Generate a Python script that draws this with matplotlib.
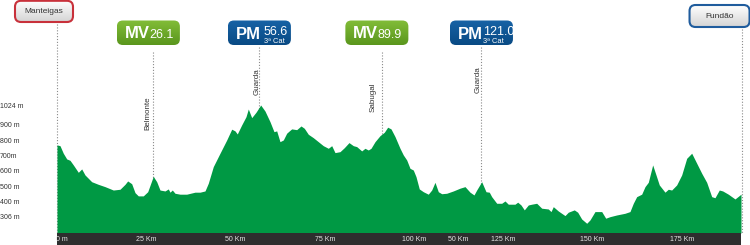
import numpy as np
import matplotlib
matplotlib.use("Agg")
import matplotlib.pyplot as plt
from matplotlib.patches import FancyBboxPatch
from matplotlib.colors import LinearSegmentedColormap
import matplotlib.transforms as mtransforms

plt.rcParams['font.family'] = ['Liberation Sans', 'DejaVu Sans']

# ---------------- data ----------------
km = [0.0, 0.84, 1.76, 2.72, 3.64, 4.57, 5.97, 6.92, 7.84, 9.72, 11.57, 13.45, 15.77, 17.65,
      19.05, 19.80, 20.92, 21.85, 22.77, 24.17, 25.41, 26.97, 27.93, 28.85, 30.25, 31.18,
      31.65, 32.30, 33.05, 34.45, 36.33, 38.66, 40.06, 41.46, 42.38, 43.78, 45.66, 47.54,
      48.94, 49.86, 50.50, 51.74, 52.94, 53.59, 54.54, 55.74, 57.06, 58.26, 59.66, 60.78,
      61.54, 62.46, 63.39, 64.34, 65.07, 65.74, 67.14, 68.35, 69.27, 70.39, 71.79, 73.19,
      74.59, 76.00, 76.95, 77.87, 79.27, 80.48, 81.79, 83.00, 83.95, 85.35, 86.27, 87.20,
      87.96, 89.08, 90.48, 91.68, 92.63, 93.56, 94.68, 96.08, 97.00, 97.96, 98.88, 99.80,
      100.56, 101.48, 102.61, 104.00, 104.96, 105.88, 106.81, 107.76, 109.16, 111.01,
      112.89, 114.29, 115.69, 116.81, 117.56, 118.96, 120.17, 121.09, 121.76, 123.17,
      124.57, 125.49, 126.41, 128.29, 129.05, 129.97, 130.90, 132.02, 132.97, 134.37,
      135.77, 137.62, 138.38, 139.02, 140.42, 142.30, 143.22, 144.90, 145.85, 146.97,
      148.38, 149.30, 150.70, 152.58, 153.70, 154.90, 156.78, 159.10, 160.50, 161.43,
      162.38, 163.78, 164.71, 165.63, 166.86, 167.79, 168.71, 170.31, 171.23, 172.18,
      173.58, 174.99, 176.39, 177.79, 179.19, 180.59, 181.99, 183.39, 184.31, 185.52,
      186.47, 188.04, 189.92, 191.60]
elev = [775, 770, 721, 684, 675, 645, 597, 619, 580, 536, 519, 504, 482, 487,
        519, 541, 523, 465, 444, 444, 471, 571, 536, 482, 476, 489,
        468, 482, 461, 455, 455, 468, 468, 476, 526, 634, 721, 807,
        877, 866, 846, 905, 958, 1008, 952, 987, 1034, 995, 926, 861,
        866, 796, 807, 851, 866, 879, 874, 898, 883, 844, 822, 796,
        770, 753, 770, 725, 731, 757, 790, 770, 764, 736, 753, 742,
        753, 796, 835, 857, 890, 879, 829, 753, 710, 677, 623, 612,
        569, 489, 471, 455, 482, 532, 471, 458, 461, 476,
        494, 504, 468, 450, 482, 536, 471, 468, 439, 396,
        396, 411, 390, 390, 403, 385, 353, 385, 390, 396,
        364, 359, 342, 374, 346, 316, 338, 353, 338, 294,
        266, 288, 342, 342, 299, 309, 320, 331, 342, 396,
        439, 455, 504, 532, 645, 580, 515, 468, 487, 482,
        515, 580, 688, 721, 656, 591, 532, 439, 432, 482,
        476, 455, 424, 455]

ytick_vals = [1024, 900, 800, 700, 600, 500, 400, 306]
ytick_labels = ['1024 m', '900 m', '800 m', '700m', '600 m', '500 m', '400 m', '306 m']
xtick_km = [0, 25, 50, 75, 100, 112.5, 125, 150, 175]
xtick_labels = ['0 m', '25 Km', '50 Km', '75 Km', '100 Km', '50 Km', '125 Km', '150 Km', '175 Km']

places = ['Manteigas', 'Belmonte', 'Guarda', 'Sabugal', 'Guarda', 'Fundão']
place_km = [0.0, 27.0, 56.7, 91.0, 118.7, 191.75]

climb_type = ['MV', 'PM', 'MV', 'PM']
climb_label = ['26.1', '56.6', '89.9', '121.0']
climb_cat = ['', '3ª Cat', '', '3ª Cat']
climb_badge_km = [25.6, 56.7, 89.6, 118.9]

# ---------------- layout ----------------
W, H = 750, 245
L, R = 57, 741
BAR_TOP = 233
KM_MAX = 191.6
Y_BOTTOM, Y_TOP = 203, 1716
PPK = (R - L) / KM_MAX

GREEN = '#009944'
BAR = '#2e2e2e'

fig = plt.figure(figsize=(W / 100, H / 100), dpi=100)
fig.patch.set_facecolor('white')

ax = fig.add_axes([L / W, (H - BAR_TOP) / H, (R - L) / W, BAR_TOP / H])
ax.set_xlim(0, KM_MAX)
ax.set_ylim(Y_BOTTOM, Y_TOP)
ax.axis('off')

# overlay in (km, pixel-from-top) units covering the whole figure
ov = fig.add_axes([0, 0, 1, 1], zorder=3)
ov.set_xlim(-L / PPK, (W - L) / PPK)
ov.set_ylim(H, 0)
ov.axis('off')
ov.patch.set_alpha(0)

# bar axis
bax = fig.add_axes([L / W, 0, (R - L) / W, (H - BAR_TOP) / H], zorder=2)
bax.set_xlim(0, KM_MAX)
bax.set_ylim(0, 1)
bax.set_facecolor(BAR)
for s in bax.spines.values():
    s.set_visible(False)
bax.set_xticks([]); bax.set_yticks([])
for k, lab in zip(xtick_km, xtick_labels):
    if k == 0:
        bax.text(k, 0.5, lab, ha='left', va='center', fontsize=5, color='#e6e6e6',
                 transform=mtransforms.offset_copy(bax.transData, fig=fig, x=-1.2, y=0, units='dots'))
    else:
        bax.text(k, 0.5, lab, ha='center', va='center', fontsize=5, color='#e6e6e6')

# profile
ax.fill_between(km, elev, Y_BOTTOM, color=GREEN, lw=0, zorder=2)

# y labels
ytr = mtransforms.blended_transform_factory(fig.transFigure, ax.transData)
for v, lab in zip(ytick_vals, ytick_labels):
    fig.text(0.0, v, lab, transform=ytr, ha='left', va='center', fontsize=5, color='#333333')

# dotted location lines (behind the profile)
line_tops = [24, 52, 47, 52, 47, 29]
btr = mtransforms.blended_transform_factory(ax.transData, ov.transData)
for k, top in zip(place_km, line_tops):
    ax.plot([k, k], [top, BAR_TOP], transform=btr, color='#8a8a8a', lw=0.8,
            dashes=(1, 1.6), zorder=1, clip_on=False)

# rotated location names
label_pos = {1: (-4.3, 130), 2: (-1.0, 95), 3: (-7.2, 112), 4: (-0.7, 93)}
for i, (dx, yb) in label_pos.items():
    ov.text(place_km[i] + dx / PPK, yb, places[i], rotation=90, rotation_mode='anchor',
            ha='left', va='baseline', fontsize=5.8, color='#333333')


def badge(x0, x1, y0, y1, c_top, c_bot, edge='none', lw=0.0, rpx=5):
    p = FancyBboxPatch((x0, y0), x1 - x0, y1 - y0,
                       boxstyle=f"round,pad=0,rounding_size={rpx / PPK}",
                       mutation_aspect=PPK, fc='none', ec=edge, lw=lw, zorder=6)
    ov.add_patch(p)
    cmap = LinearSegmentedColormap.from_list('g', [c_top, c_bot])
    img = np.linspace(0, 1, 64).reshape(-1, 1)
    im = ov.imshow(img, extent=[x0, x1, y1, y0], cmap=cmap, aspect='auto',
                   interpolation='bilinear', zorder=5)
    im.set_clip_path(p)
    return p


# start / finish badges
end_badges = [(0, -13, 58, 0.8, 22, '#c8313b'), (5, -22, 60, 5, 27, '#1f5c9d')]
for i, dxc, wpx, y0, y1, ec in end_badges:
    k = place_km[i]
    cx = k + dxc / PPK
    x0 = cx - wpx / 2 / PPK
    x1 = cx + wpx / 2 / PPK
    badge(x0, x1, y0, y1, '#ffffff', '#d4d4d4', edge=ec, lw=1.5, rpx=6)
    ov.text(cx, (y0 + y1) / 2 + 0.5, places[i], ha='center', va='center',
            fontsize=6, color='#333333', zorder=7)

# climb / sprint badges
num_off = [32.5, 36, 32.5, 33.3]
BW = 63
for t, lab, cat, bk, off in zip(climb_type, climb_label, climb_cat, climb_badge_km, num_off):
    x0 = bk - BW / 2 / PPK
    x1 = bk + BW / 2 / PPK
    if t == 'MV':
        p = badge(x0, x1, 20.5, 45, '#82bd38', '#5a961d', rpx=6)
        ov.text(x0 + 7.5 / PPK, 37.5, 'MV', ha='left', va='baseline', fontsize=12,
                fontweight='bold', color='white', zorder=7)
        tt = ov.text(x0 + off / PPK, 37.5, lab, ha='left', va='baseline', fontsize=9,
                     color='white', zorder=7)
        tt.set_clip_path(p)
    else:
        p = badge(x0, x1, 20.5, 45, '#1763a6', '#094a84', rpx=6)
        ov.text(x0 + 8 / PPK, 39.3, 'PM', ha='left', va='baseline', fontsize=12,
                fontweight='bold', color='white', zorder=7)
        t1 = ov.text(x0 + off / PPK, 35, lab, ha='left', va='baseline', fontsize=9,
                     color='white', zorder=7)
        t2 = ov.text(x0 + off / PPK, 43.3, cat, ha='left', va='baseline', fontsize=5.4,
                     color='white', zorder=7)
        t1.set_clip_path(p)
        t2.set_clip_path(p)

ov.set_xlim(-L / PPK, (W - L) / PPK)
ov.set_ylim(H, 0)
ov.set_aspect('auto')

fig.savefig('out.png', dpi=100, facecolor='white')
